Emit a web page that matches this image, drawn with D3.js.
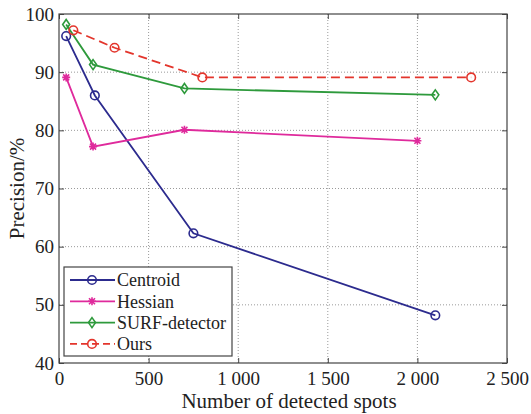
<!DOCTYPE html>
<html>
<head>
<meta charset="utf-8">
<script src="https://cdn.jsdelivr.net/npm/d3@7"></script>
<style>
  body { margin: 0; background: #fff; }
  svg, svg text { font-family: "Times New Roman", "Liberation Serif", Tinos, "Noto Serif", "DejaVu Serif", serif !important; }
</style>
</head>
<body>
<div id="chart"></div>
<script>
// data
const seriesNames = ['Centroid', 'Hessian', 'SURF-detector', 'Ours']
const centroidX = [40, 200, 750, 2100]
const centroidY = [96.2, 86, 62.3, 48.2]
const hessianX = [40, 190, 700, 2000]
const hessianY = [89.1, 77.2, 80.1, 78.2]
const surfX = [40, 190, 700, 2100]
const surfY = [98.2, 91.3, 87.2, 86.1]
const oursX = [80, 310, 800, 2300]
const oursY = [97.2, 94.2, 89.1, 89.1]
const xTicks = [0, 500, 1000, 1500, 2000, 2500]
const yTicks = [40, 50, 60, 70, 80, 90, 100]

const width = 531
const height = 414
const margin = { top: 14, left: 59, right: 24, bottom: 51 }
const innerW = width - margin.left - margin.right
const innerH = height - margin.top - margin.bottom

const colors = ['#2c2b8e', '#df2a9c', '#2e9a3c', '#e3352c']
const markers = ['circle', 'star', 'diamond', 'circle']
const dashes = [null, null, null, '9,5']

const series = [
  [centroidX, centroidY],
  [hessianX, hessianY],
  [surfX, surfY],
  [oursX, oursY]
].map(([xs, ys], i) => ({
  name: seriesNames[i],
  color: colors[i],
  marker: markers[i],
  dash: dashes[i],
  points: xs.map((x, j) => ({ x: x, y: ys[j] }))
}))

const svg = d3.select('#chart')
  .append('svg')
  .attr('width', width)
  .attr('height', height)

const g = svg.append('g')
  .attr('transform', 'translate(' + margin.left + ',' + margin.top + ')')

const x = d3.scaleLinear().domain([0, 2500]).range([0, innerW])
const y = d3.scaleLinear().domain([40, 100]).range([innerH, 0])

// grid (dotted)
g.append('g')
  .selectAll('line')
  .data(xTicks.slice(1, -1))
  .join('line')
  .attr('x1', d => x(d)).attr('x2', d => x(d))
  .attr('y1', 0).attr('y2', innerH)
  .attr('stroke', '#9a9a9a')
  .attr('stroke-width', 1)
  .attr('stroke-dasharray', '1,2')

g.append('g')
  .selectAll('line')
  .data(yTicks.slice(1, -1))
  .join('line')
  .attr('y1', d => y(d)).attr('y2', d => y(d))
  .attr('x1', 0).attr('x2', innerW)
  .attr('stroke', '#9a9a9a')
  .attr('stroke-width', 1)
  .attr('stroke-dasharray', '1,2')

// axes, ticks pointing inward like matlab
const axisColor = '#444'
const fontSize = 19

const xAxis = g.append('g')
  .attr('transform', 'translate(0,' + innerH + ')')
  .call(d3.axisBottom(x).tickValues(xTicks).tickSizeInner(-5).tickSizeOuter(0)
    .tickPadding(9)
    .tickFormat(d => d3.format(',')(d).replace(',', ' ')))
const yAxis = g.append('g')
  .call(d3.axisLeft(y).tickValues(yTicks).tickSizeInner(-5).tickSizeOuter(0).tickPadding(5))
const xTop = g.append('g')
  .call(d3.axisTop(x).tickValues(xTicks).tickSizeInner(-5).tickSizeOuter(0).tickFormat(''))
const yRight = g.append('g')
  .attr('transform', 'translate(' + innerW + ',0)')
  .call(d3.axisRight(y).tickValues(yTicks).tickSizeInner(-5).tickSizeOuter(0).tickFormat(''))

;[xAxis, yAxis, xTop, yRight].forEach(a => {
  a.attr('font-family', null)
  a.select('.domain').remove()
  a.selectAll('line').attr('stroke', axisColor)
  a.selectAll('text')
    .attr('fill', '#222')
    .style('font-size', fontSize + 'px')
})

g.append('rect')
  .attr('width', innerW)
  .attr('height', innerH)
  .attr('fill', 'none')
  .attr('stroke', axisColor)
  .attr('stroke-width', 1.2)

// axis titles
svg.append('text')
  .attr('x', margin.left + innerW / 2 + 6)
  .attr('y', 408)
  .attr('text-anchor', 'middle')
  .style('font-size', '21px')
  .attr('fill', '#222')
  .text('Number of detected spots')

svg.append('text')
  .attr('transform', 'translate(24,' + (margin.top + innerH / 2) + ') rotate(-90)')
  .attr('text-anchor', 'middle')
  .style('font-size', '21px')
  .attr('fill', '#222')
  .text('Precision/%')

// markers
function drawMarker(sel, type, color) {
  if (type === 'circle') {
    sel.append('circle').attr('r', 4.3)
      .attr('fill', 'none').attr('stroke', color).attr('stroke-width', 1.6)
  } else if (type === 'diamond') {
    sel.append('path').attr('d', 'M0,-5L3.5,0L0,5L-3.5,0Z')
      .attr('fill', 'none').attr('stroke', color).attr('stroke-width', 1.6)
  } else {
    sel.append('path').attr('d', 'M-4,0L4,0M0,-4L0,4M-3,-3L3,3M-3,3L3,-3')
      .attr('stroke', color).attr('stroke-width', 1.6)
  }
}

const line = d3.line().x(d => x(d.x)).y(d => y(d.y))

const lines = g.append('g')
series.forEach(s => {
  lines.append('path')
    .datum(s.points)
    .attr('d', line)
    .attr('fill', 'none')
    .attr('stroke', s.color)
    .attr('stroke-width', 1.8)
    .attr('stroke-dasharray', s.dash)
  lines.append('g')
    .selectAll('g')
    .data(s.points)
    .join('g')
    .attr('transform', d => 'translate(' + x(d.x) + ',' + y(d.y) + ')')
    .each(function() { drawMarker(d3.select(this), s.marker, s.color) })
})

// legend
const legend = svg.append('g').attr('transform', 'translate(64,267)')
legend.append('rect')
  .attr('width', 168)
  .attr('height', 89)
  .attr('fill', '#fff')
  .attr('stroke', axisColor)
  .attr('stroke-width', 1.2)

const rows = legend.selectAll('g.row')
  .data(series)
  .join('g')
  .attr('class', 'row')
  .attr('transform', (d, i) => 'translate(0,' + (13 + i * 21.3) + ')')

rows.append('line')
  .attr('x1', 6).attr('x2', 51)
  .attr('stroke', d => d.color)
  .attr('stroke-width', 1.8)
  .attr('stroke-dasharray', d => d.dash ? '7,4' : null)
rows.each(function(d) {
  const m = d3.select(this).append('g').attr('transform', 'translate(28,0)')
  drawMarker(m, d.marker, d.color)
})
rows.append('text')
  .attr('x', 53)
  .attr('dy', '0.35em')
  .style('font-size', '18px')
  .attr('fill', '#222')
  .text(d => d.name)
</script>
</body>
</html>
